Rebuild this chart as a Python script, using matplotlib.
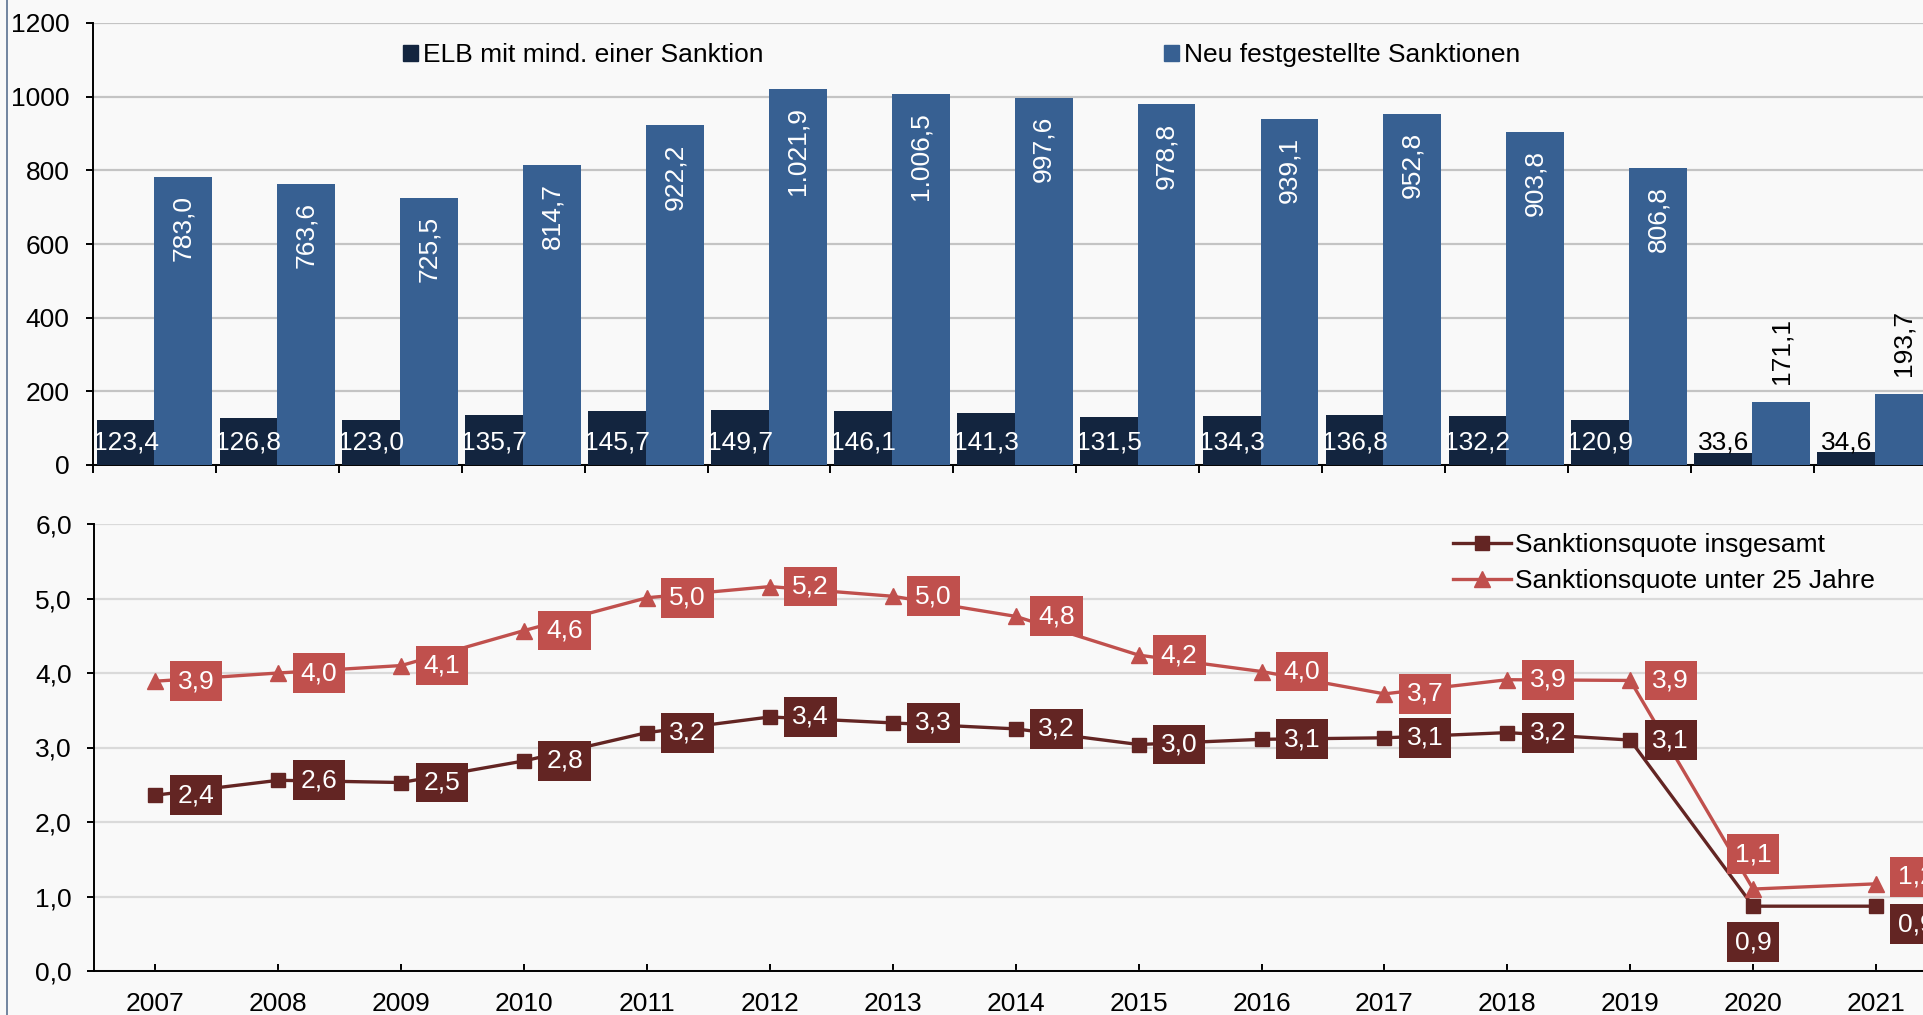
import matplotlib
matplotlib.use('Agg')
import matplotlib.pyplot as plt
from matplotlib.patches import Patch
from matplotlib.lines import Line2D
import numpy as np

plt.rcParams['font.family'] = ['Liberation Sans', 'DejaVu Sans']
plt.rcParams['font.size'] = 19

years = ['2007', '2008', '2009', '2010', '2011', '2012', '2013', '2014',
         '2015', '2016', '2017', '2018', '2019', '2020', '2021']

# Tausend
elb_sanktion = [123.4, 126.8, 123.0, 135.7, 145.7, 149.7, 146.1, 141.3,
                131.5, 134.3, 136.8, 132.2, 120.9, 33.6, 34.6]
neu_sanktionen = [783.0, 763.6, 725.5, 814.7, 922.2, 1021.9, 1006.5, 997.6,
                  978.8, 939.1, 952.8, 903.8, 806.8, 171.1, 193.7]

# Prozent
quote_gesamt = [2.36, 2.56, 2.53, 2.82, 3.20, 3.41, 3.33, 3.25,
                3.04, 3.11, 3.13, 3.20, 3.10, 0.87, 0.87]
quote_u25 = [3.89, 4.00, 4.10, 4.57, 5.01, 5.16, 5.03, 4.76,
             4.24, 4.02, 3.72, 3.91, 3.90, 1.10, 1.17]

bg = '#f9f9f9'
c_elb = '#13253f'
c_neu = '#376092'
c_ges = '#632523'
c_u25 = '#c0504d'


def de(v, dec=1):
    s = f'{v:,.{dec}f}'
    return s.replace(',', 'X').replace('.', ',').replace('X', '.')


W, H = 1923, 1015
fig = plt.figure(figsize=(W / 100, H / 100), dpi=100, facecolor=bg)

x = np.arange(len(years))
left = 93 / W
width = 15 * 122.9 / W

# ---- oben: Balken ----
ax1 = fig.add_axes([left, 1 - 465 / H, width, 442 / H], facecolor=bg)
bw = 0.47
ax1.bar(x - bw / 2, elb_sanktion, width=bw, color=c_elb, zorder=3)
ax1.bar(x + bw / 2, neu_sanktionen, width=bw, color=c_neu, zorder=3)
ax1.set_xlim(-0.5, 14.5)
ax1.set_ylim(0, 1200)
ax1.set_yticks(range(0, 1201, 200))
ax1.set_xticks(np.arange(-0.5, 14.0, 1))
ax1.set_xticklabels([])
ax1.yaxis.grid(True, color='#c4c4c4', lw=1.6, zorder=0)
for s in ['top', 'right']:
    ax1.spines[s].set_visible(False)
for s in ['left', 'bottom']:
    ax1.spines[s].set_linewidth(1.4)
ax1.tick_params(axis='y', length=5, width=1.4, pad=12, labelsize=19)
ax1.tick_params(axis='x', length=6, width=1.4)

for i, v in enumerate(elb_sanktion):
    col = 'white' if v > 60 else 'black'
    ax1.annotate(de(v), (x[i] - bw / 2, 0), xytext=(0, 11), textcoords='offset points',
                 ha='center', va='baseline', color=col, fontsize=19, zorder=4)
for i, v in enumerate(neu_sanktionen):
    if v > 400:
        ax1.annotate(de(v), (x[i] + bw / 2, v), xytext=(0, -13), textcoords='offset points',
                     ha='center', va='top', rotation=90, color='white', fontsize=19, zorder=4)
    else:
        ax1.annotate(de(v), (x[i] + bw / 2, v), xytext=(0, 13), textcoords='offset points',
                     ha='center', va='bottom', rotation=90, color='black', fontsize=19, zorder=4)

h1 = Patch(color=c_elb)
h2 = Patch(color=c_neu)
fig.legend([h1], ['ELB mit mind. einer Sanktion'], loc='center left',
           bbox_to_anchor=(403 / W, 1 - 55 / H), frameon=False, borderpad=0,
           borderaxespad=0, handlelength=0.55, handleheight=0.55,
           handletextpad=0.2, fontsize=19)
fig.legend([h2], ['Neu festgestellte Sanktionen'], loc='center left',
           bbox_to_anchor=(1164 / W, 1 - 55 / H), frameon=False, borderpad=0,
           borderaxespad=0, handlelength=0.55, handleheight=0.55,
           handletextpad=0.2, fontsize=19)

# ---- unten: Linien ----
ax2 = fig.add_axes([94 / W, 1 - 971 / H, width, 447 / H], facecolor=bg)
ax2.plot(x, quote_gesamt, color=c_ges, lw=2.4, marker='s', ms=10, zorder=3,
         label='Sanktionsquote insgesamt')
ax2.plot(x, quote_u25, color=c_u25, lw=2.4, marker='^', ms=11, zorder=3,
         label='Sanktionsquote unter 25 Jahre')
ax2.set_xlim(-0.5, 14.5)
ax2.set_ylim(0, 6)
ax2.set_yticks(np.arange(0, 6.01, 1))
ax2.set_yticklabels([de(v) for v in np.arange(0, 6.01, 1)])
ax2.set_xticks(x)
ax2.set_xticklabels(years)
ax2.yaxis.grid(True, color='#dadada', lw=1.6, zorder=0)
for s in ['top', 'right']:
    ax2.spines[s].set_visible(False)
for s in ['left', 'bottom']:
    ax2.spines[s].set_linewidth(1.4)
ax2.tick_params(axis='y', length=5, width=1.4, pad=11, labelsize=19)
ax2.tick_params(axis='x', length=5, width=1.4, direction='in', pad=15, labelsize=19)

for series, col in [(quote_gesamt, c_ges), (quote_u25, c_u25)]:
    for i, v in enumerate(series):
        if years[i] == '2020':
            dy = 25 if series is quote_u25 else -26
            ax2.annotate(de(v), (x[i], v), xytext=(0, dy), textcoords='offset points',
                         ha='center', va='center', color='white', fontsize=19, zorder=5,
                         bbox=dict(boxstyle='square,pad=0.3', fc=col, ec='none'))
        else:
            dy = 0
            if years[i] == '2021':
                dy = 5 if series is quote_u25 else -13
            ax2.annotate(de(v), (x[i], v), xytext=(16, dy), textcoords='offset points',
                         ha='left', va='center', color='white', fontsize=19, zorder=5,
                         bbox=dict(boxstyle='square,pad=0.3', fc=col, ec='none'))

ax2.legend(loc='center left', bbox_to_anchor=(1453 / W, 1 - 563 / H),
           bbox_transform=fig.transFigure, frameon=False, borderpad=0,
           borderaxespad=0, handlelength=2.2, handletextpad=0.15,
           labelspacing=0.45, fontsize=19)

fig.add_artist(Line2D([7 / W, 7 / W], [0, 1], color='#5a7190', lw=1.2))

fig.savefig('out.png', dpi=100, facecolor=bg)
